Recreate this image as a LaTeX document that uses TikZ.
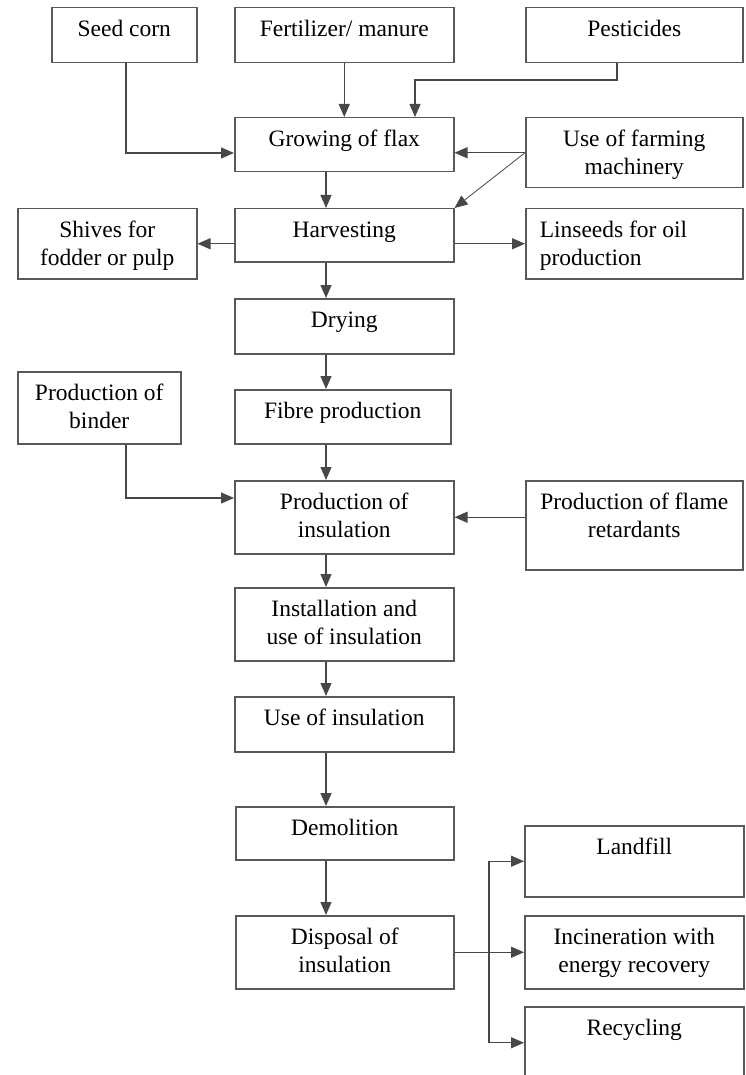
\documentclass[tikz,border=0pt]{standalone}
\usepackage{fontspec}
\setmainfont{Liberation Serif}
\usetikzlibrary{arrows.meta,calc}
\tikzset{
  boxst/.style={draw=black!65, line width=1.5pt, inner sep=0pt, anchor=north west, text=black},
  arr/.style={draw=black!72, line width=1.3pt, -{Triangle[length=13pt,width=11pt]}},
  arrtwo/.style={draw=black!72, line width=1.3pt, {Triangle[length=13pt,width=11pt]}-{Triangle[length=13pt,width=11pt]}},
}
% name, x1, y1, x2, y2, alignment, text
\newcommand{\flbox}[7]{%
  \node[boxst] (#1) at (#2,#3)
  {\parbox[t][\dimexpr#5pt-#3pt\relax][t]{\dimexpr#4pt-#2pt\relax}{#6\rule{0pt}{29pt}#7}};%
}
\newcommand{\ctr}{\centering}
\newcommand{\lft}{\raggedright\leftskip=14pt }
\begin{document}
\begin{tikzpicture}[x=1pt,y=-1pt,font=\fontsize{23.5}{28}\selectfont]
\useasboundingbox (0,0) rectangle (745,1075);
\flbox{seed}{51}{7}{196}{62}{\ctr}{Seed corn}
\flbox{fert}{234}{7}{453}{62}{\ctr}{Fertilizer/ manure}
\flbox{pest}{525}{7}{742}{62}{\ctr}{Pesticides}
\flbox{grow}{234}{117}{453}{171}{\ctr}{Growing of flax}
\flbox{mach}{525}{117}{742}{187}{\ctr}{Use of farming\\machinery}
\flbox{harv}{234}{208}{453}{261}{\ctr}{Harvesting}
\flbox{shiv}{17}{208}{196}{278}{\ctr}{Shives for\\fodder or pulp}
\flbox{lin}{525}{208}{742}{278}{\lft}{Linseeds for oil\\production}
\flbox{dry}{234}{298}{453}{353}{\ctr}{Drying}
\flbox{bind}{17}{371}{180}{443}{\ctr}{Production of\\binder}
\flbox{fibre}{234}{389}{450}{443}{\ctr}{Fibre production}
\flbox{pins}{234}{480}{453}{553}{\ctr}{Production of\\insulation}
\flbox{flame}{525}{480}{742}{569}{\ctr}{Production of flame\\retardants}
\flbox{inst}{234}{587}{453}{660}{\ctr}{Installation and\\use of insulation}
\flbox{use}{234}{696}{453}{751}{\ctr}{Use of insulation}
\flbox{demo}{235}{806}{453}{859}{\ctr}{Demolition}
\flbox{disp}{235}{915}{453}{988}{\ctr}{Disposal of\\insulation}
\flbox{land}{524}{825}{743}{896}{\ctr}{Landfill}
\flbox{incin}{524}{915}{743}{988}{\ctr}{Incineration with\\energy recovery}
\flbox{recy}{524}{1006}{743}{1078}{\ctr}{Recycling}
% routing coordinates
\coordinate (sp) at (326,0);
\coordinate (sc) at (126,153);
\coordinate (pa) at (617,80);
\coordinate (pb) at (415,80);
\coordinate (bc) at (126,498);
\coordinate (bus) at (489,0);
% connectors
\draw[arr] (seed.south -| sc) -- (sc) -- (grow.west |- sc);
\draw[arr] (fert.south) -- (grow.north -| fert.south);
\draw[arr] (pest.south -| pa) -- (pa) -- (pb) -- (grow.north -| pb);
\draw[arr] (mach.west) -- (grow.east |- mach.west);
\draw[arr, line width=0.8pt] (mach.west) -- (harv.north east);
\draw[arr] (grow.south -| sp) -- (harv.north -| sp);
\draw[arr] (harv.west |- shiv.east) -- (shiv.east);
\draw[arr] (harv.east |- lin.west) -- (lin.west);
\draw[arr] (harv.south -| sp) -- (dry.north -| sp);
\draw[arr] (dry.south -| sp) -- (fibre.north -| sp);
\draw[arr] (fibre.south -| sp) -- (pins.north -| sp);
\draw[arr] (bind.south -| bc) -- (bc) -- (pins.west |- bc);
\draw[arr] (flame.west |- pins.east) -- (pins.east);
\draw[arr] (pins.south -| sp) -- (inst.north -| sp);
\draw[arr] (inst.south -| sp) -- (use.north -| sp);
\draw[arr] (use.south -| sp) -- (demo.north -| sp);
\draw[arr] (demo.south -| sp) -- (disp.north -| sp);
\draw[arr] (disp.east) -- (incin.west);
\draw[arrtwo] (land.west) -| (bus |- disp.east) |- (recy.west);
\end{tikzpicture}
\end{document}
